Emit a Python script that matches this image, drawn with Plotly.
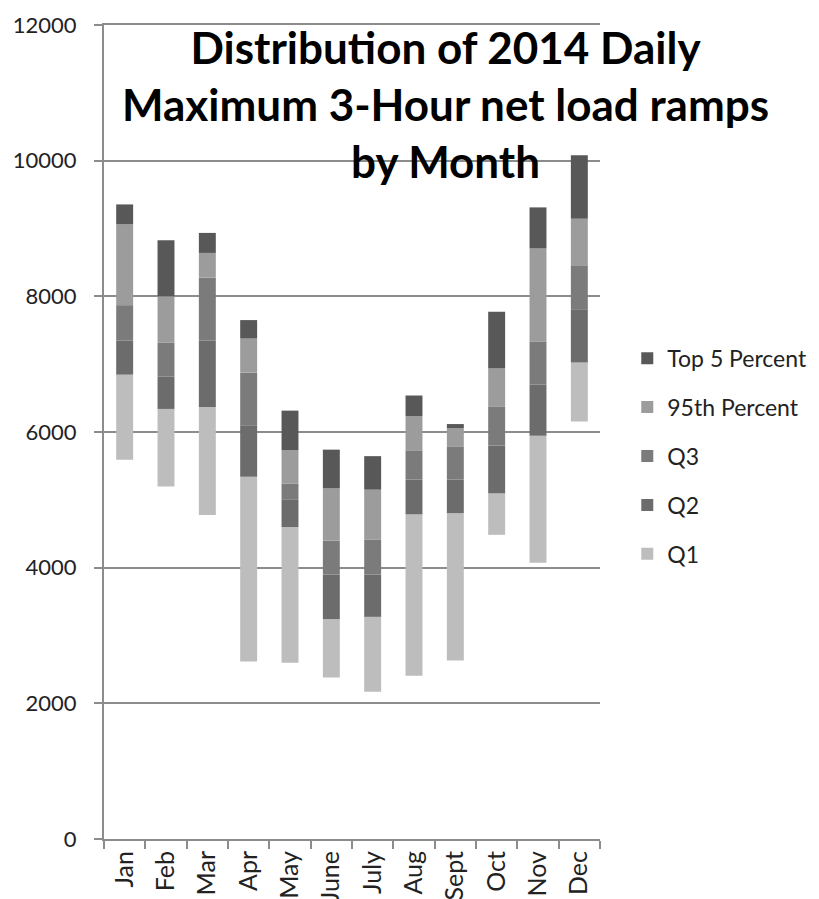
import plotly.graph_objects as go

months = ["Jan", "Feb", "Mar", "Apr", "May", "June", "July", "Aug", "Sept", "Oct", "Nov", "Dec"]

# segment boundaries (floating stacked bars)
q1_low = [5590, 5195, 4775, 2615, 2600, 2380, 2170, 2405, 2632, 4484, 4074, 6153]
q1_top = [6845, 6340, 6370, 5340, 4597, 3240, 3275, 4785, 4805, 5095, 5944, 7025]
q2_top = [7350, 6820, 7350, 6100, 5000, 3900, 3900, 5300, 5300, 5800, 6700, 7800]
q3_top = [7870, 7315, 8275, 6875, 5237, 4400, 4410, 5730, 5780, 6370, 7336, 8458]
p95_top = [9060, 8000, 8640, 7378, 5730, 5170, 5150, 6235, 6055, 6941, 8711, 9142]
top5_max = [9355, 8825, 8935, 7650, 6315, 5740, 5644, 6538, 6117, 7772, 9311, 10079]

series = [
    ("Q1", q1_low, q1_top, "#bdbdbd"),
    ("Q2", q1_top, q2_top, "#6c6c6c"),
    ("Q3", q2_top, q3_top, "#7b7b7b"),
    ("95th Percent", q3_top, p95_top, "#9c9c9c"),
    ("Top 5 Percent", p95_top, top5_max, "#585858"),
]

fig = go.Figure()
for i, (name, lo, hi, col) in enumerate(series):
    fig.add_trace(go.Bar(x=months, y=[h - l for l, h in zip(lo, hi)], base=lo,
                         name=name, marker=dict(color=col, line=dict(width=0)),
                         opacity=1, legendgroup=str(i), legendrank=100 - i))

grid = "#8c8c8c"
# page body has an 8px margin, so margins are shifted to compensate
fig.update_layout(
    width=819, height=899,
    margin=dict(l=96, r=227, t=17, b=68, autoexpand=False),
    plot_bgcolor="white", paper_bgcolor="white",
    barmode="overlay", bargap=0.59,
    font=dict(family="Lato", size=22, color="#222222"),
    legend=dict(x=1.055, y=0.617, yanchor="top", xanchor="left",
                traceorder="grouped", tracegroupgap=16,
                font=dict(size=23, color="#222222")),
    xaxis=dict(showline=True, linecolor=grid, linewidth=2, mirror=True,
               ticks="outside", tickson="boundaries", tickcolor=grid,
               ticklen=8, tickwidth=2, tickangle=-90, showgrid=False,
               tickfont=dict(size=25), automargin=False),
    yaxis=dict(range=[0, 12000], dtick=2000, tickformat="d", showline=True,
               linecolor=grid, linewidth=2, ticks="outside", tickcolor=grid,
               ticklen=8, tickwidth=2, showgrid=True, gridcolor=grid,
               gridwidth=2, zeroline=False, ticklabelstandoff=13,
               automargin=False),
)

fig.add_annotation(
    text="Distribution of 2014 Daily<br>Maximum 3-Hour net load ramps<br>by Month",
    xref="paper", yref="paper", x=0.6875, y=1.007, xanchor="center", yanchor="top",
    showarrow=False, font=dict(family="Lato", size=44, color="black", weight="bold"),
)

fig.write_html("out.html")
